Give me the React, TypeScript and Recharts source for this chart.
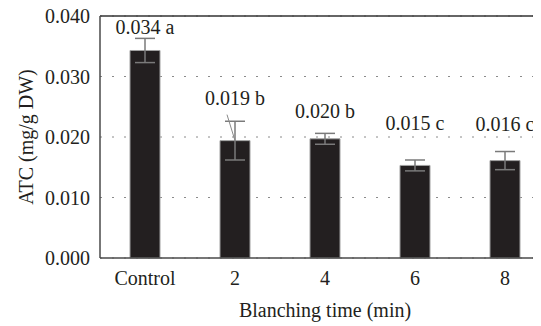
import React from 'react';
import { BarChart, Bar, XAxis, YAxis, CartesianGrid, ErrorBar, LabelList, ReferenceLine, Label } from 'recharts';

const categories = ['Control', '2', '4', '6', '8'];
const means = [0.0343, 0.0194, 0.0197, 0.0153, 0.0161];
const errors = [0.002, 0.0032, 0.0009, 0.0009, 0.0015];
const labels = ['0.034 a', '0.019 b', '0.020 b', '0.015 c', '0.016 c'];
const yTicks = [0, 0.01, 0.02, 0.03, 0.04];

const data = categories.map((c, i) => ({ name: c, value: means[i], err: errors[i], label: labels[i] }));

const FONT = '"Liberation Serif", "Times New Roman", serif';
const TEXT = '#231f20';
const labelOffsets = [16, 36, 21, 35, 30];

const renderLabel = (props: any) => {
  const { x, y, width, value, index } = props;
  const cx = Number(x) + Number(width) / 2;
  const by = Number(y);
  return (
    <g>
      {index === 1 && (
        <line x1={cx - 8} y1={by - 26} x2={cx} y2={by} stroke="#8a8a8a" strokeWidth={1} />
      )}
      <text x={cx} y={by - labelOffsets[index]} textAnchor="middle" fontFamily={FONT} fontSize={20} fill={TEXT}>
        {value}
      </text>
    </g>
  );
};

export default function App() {
  return (
    <div style={{ margin: '-8px 0 0 -8px', width: 541, height: 326, overflow: 'hidden' }}>
      <BarChart width={553} height={326} data={data} margin={{ top: 16, right: 3, left: 0, bottom: 0 }}>
        <CartesianGrid horizontal vertical={false} stroke="#8a8a8a" strokeDasharray="2 10" />
        <XAxis
          dataKey="name"
          height={68}
          tickLine={false}
          tickSize={6}
          tickMargin={7}
          axisLine={{ stroke: '#4a4a4a', strokeWidth: 1.5 }}
          tick={{ fontFamily: FONT, fontSize: 20, fill: TEXT }}
          interval={0}
        >
          <Label
            content={(p: any) => {
              const vb = p.viewBox;
              return (
                <text x={vb.x + vb.width / 2} y={317} textAnchor="middle" fontFamily={FONT} fontSize={20} fill={TEXT}>
                  Blanching time (min)
                </text>
              );
            }}
          />
        </XAxis>
        <YAxis
          width={100}
          domain={[0, 0.04]}
          ticks={yTicks}
          tickFormatter={(v: number) => v.toFixed(3)}
          tickLine={false}
          tickMargin={4}
          axisLine={{ stroke: '#4a4a4a', strokeWidth: 1.5 }}
          tick={{ fontFamily: FONT, fontSize: 20, fill: TEXT }}
          interval={0}
        >
          <Label
            content={(p: any) => {
              const vb = p.viewBox;
              const cy = vb.y + vb.height / 2;
              return (
                <text x={33} y={cy} transform={`rotate(-90 33 ${cy})`} textAnchor="middle" fontFamily={FONT} fontSize={20} fill={TEXT}>
                  ATC (mg/g DW)
                </text>
              );
            }}
          />
        </YAxis>
        <ReferenceLine y={0.04} stroke="#333" strokeWidth={1.5} />
        <Bar dataKey="value" fill="#231f20" stroke="#a0a0a0" strokeWidth={1} barSize={30} isAnimationActive={false}>
          <ErrorBar dataKey="err" width={10} stroke="#7a7a7a" strokeWidth={1.5} direction="y" />
          <LabelList dataKey="label" content={renderLabel} />
        </Bar>
      </BarChart>
    </div>
  );
}
